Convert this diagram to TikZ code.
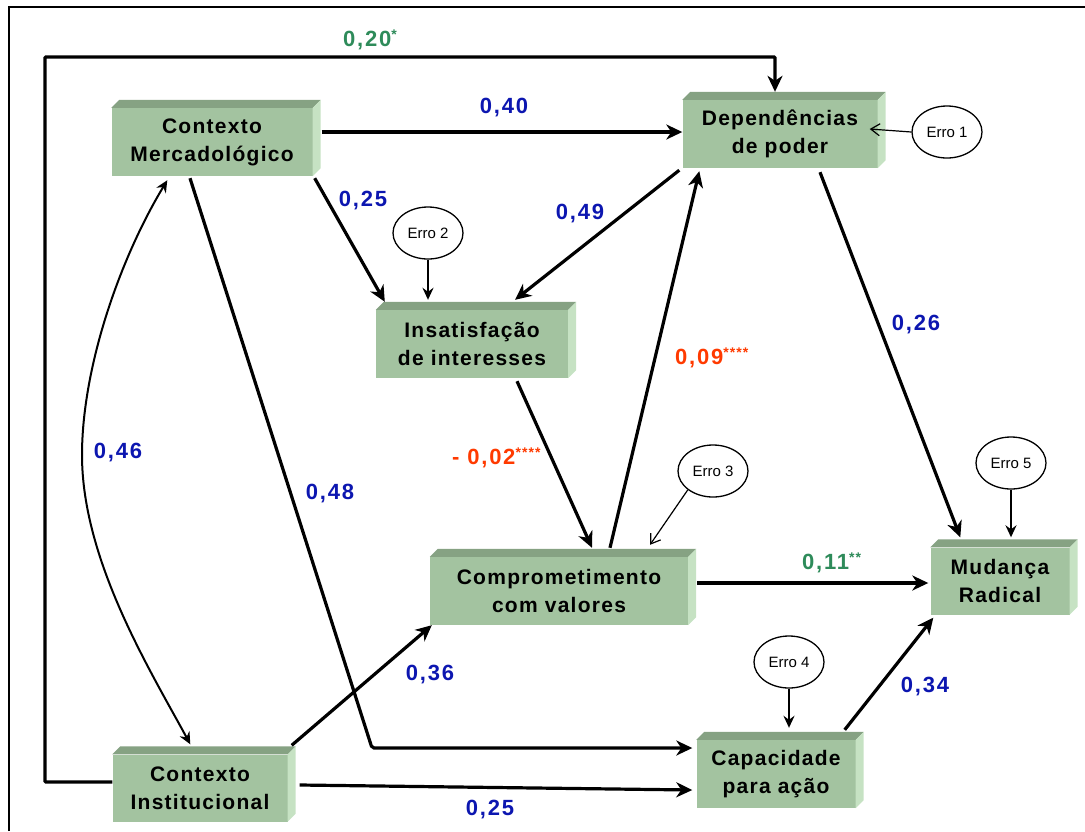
\documentclass[tikz,border=0pt]{standalone}
\usepackage{fontspec}
\setmainfont{Liberation Sans}
\newfontfamily\boxfam[LetterSpace=6]{Liberation Sans}
\newfontfamily\lblfam[LetterSpace=8]{Liberation Sans}
\usetikzlibrary{calc,arrows.meta,shapes.geometric}

\definecolor{frontc}{HTML}{A3C3A0}
\definecolor{topc}{HTML}{86A283}
\definecolor{sidec}{HTML}{C6E2C3}
\definecolor{bluelbl}{HTML}{0C16B0}
\definecolor{greenlbl}{HTML}{2E8B5A}
\definecolor{redlbl}{HTML}{FF3A00}

\newcommand\boxfont{\boxfam\fontsize{21}{28}\selectfont\bfseries}
\newcommand\lblfont{\lblfam\fontsize{22}{24}\selectfont\bfseries}
\newcommand\stars[1]{\raisebox{7pt}{\fontsize{14}{14}\selectfont #1}}

% bevelled top and right faces of a box node
\newcommand\bevel[1]{%
  \fill[topc] (#1.north west) -- ++(8,-8) -- ($(#1.north east)+(8,-8)$) -- (#1.north east) -- cycle;
  \fill[sidec] (#1.north east) -- ++(8,-8) -- ($(#1.south east)+(8,-8)$) -- (#1.south east) -- cycle;
}

\tikzset{
  blk/.style={fill=frontc, inner sep=0pt, align=center, font=\boxfont, minimum height=68pt},
  erro/.style={ellipse, draw, line width=1.3pt, fill=white, minimum width=70pt, minimum height=52pt,
               inner sep=0pt, font=\fontsize{15}{15}\selectfont},
  arr/.style={line width=3.2pt, -{Stealth[length=16pt,width=15pt,inset=5pt]}},
  arrm/.style={line width=2.2pt, -{Stealth[length=12pt,width=11pt,inset=4pt]}},
  arrt/.style={line width=1.2pt, -{Straight Barb[length=9pt,width=12pt,line width=1.2pt]}},
  twoway/.style={line width=2pt, {Stealth[length=12pt,width=11pt,inset=4pt]}-{Stealth[length=12pt,width=11pt,inset=4pt]}},
  lbl/.style={font=\lblfont, inner sep=0pt},
}

\begin{document}
\begin{tikzpicture}[x=1pt,y=-1pt]
\useasboundingbox (0,0) rectangle (1085,831);

% frame
\draw[line width=2pt] (9,831) -- (9,7) -- (1085,7);

% boxes
\node[blk, minimum width=201pt] (M) at (212,142) {Contexto\\Mercadológico};
\node[blk, minimum width=195pt] (D) at (780,134) {Dependências\\de poder};
\node[blk, minimum width=192pt] (I) at (472,344) {Insatisfação\\de interesses};
\node[blk, minimum width=258pt] (C) at (559,591) {Comprometimento\\com valores};
\node[blk, minimum width=139pt, minimum height=67pt] (R) at (1000,581) {Mudança\\Radical};
\node[blk, minimum width=159pt] (P) at (776,774) {Capacidade\\para ação};
\node[blk, minimum width=175pt, minimum height=67pt] (N) at (200,788) {Contexto\\Institucional};
\bevel{M}\bevel{D}\bevel{I}\bevel{C}\bevel{R}\bevel{P}\bevel{N}

% error terms
\node[erro] (E1) at (947,132) {Erro 1};
\node[erro] (E2) at (428,233) {Erro 2};
\node[erro] (E3) at (713,471) {Erro 3};
\node[erro] (E4) at (789,662) {Erro 4};
\node[erro] (E5) at (1011,463) {Erro 5};

% helper points
\coordinate (loopL) at (45,57);
\coordinate (kP) at (372,748);
\coordinate (arcL) at (82,455);

% paths
\draw[arr, rounded corners=1pt] ($(N.west)+(0,-6)$) -| (loopL) -| ($(D.north)+(-5,-8)$);
\draw[arr] ($(M.east)+(9,-10)$) -- ($(D.west)+(0,-2)$);
\draw[arr] ($(M.south east)+(2,2)$) -- ($(I.north west)+(9,-8)$);
\draw[arr] ($(D.south west)+(-3,2)$) -- ($(I.north)+(43,-10)$);
\draw[arr] ($(D.south)+(40,4)$) -- ($(R.north west)+(30,-10)$);
\draw[arr] ($(I.south)+(45,3)$) -- ($(C.north)+(33,-9)$);
\draw[arr] ($(C.north)+(51,-9)$) -- ($(D.south west)+(17,3)$);
\draw[arr] ($(C.east)+(9,-8)$) -- ($(R.west)+(-2,2)$);
\draw[arr] ($(P.north east)+(-11,-10)$) -- ($(R.south west)+(3,3)$);
\draw[arr] ($(N.north east)+(4,-9)$) -- ($(C.south west)+(2,0)$);
\draw[arr] ($(N.east)+(12,-3)$) -- ($(P.west)+(-4,16)$);
\draw[arr, rounded corners=2pt] ($(M.south)+(-22,2)$) -- (kP) -- ($(P.west)+(-4,-26)$);
\draw[twoway] ($(M.south west)+(56,4)$) .. controls (118,262) and (82,370) .. (arcL)
  .. controls (82,560) and (150,670) .. ($(N.north west)+(78,-10)$);

% error arrows
\draw[arrt] (E1.west) -- ($(D.east)+(-8,-5)$);
\draw[arrm] (E2.south) -- ($(I.north)+(-44,-10)$);
\draw[arrt] (E3.south west) -- ($(C.north)+(91,-12)$);
\draw[arrm] (E4.south) -- ($(P.north)+(13,-12)$);
\draw[arrm] (E5.south) -- ($(R.north)+(11,-10)$);

% coefficients
\node[lbl, text=greenlbl, anchor=west] (l1) at (343,40) {0,20\stars{*}};
\node[lbl, text=bluelbl] (l2) at (504,108) {0,40};
\node[lbl, text=bluelbl] (l3) at (363,201) {0,25};
\node[lbl, text=bluelbl] (l4) at (580,214) {0,49};
\node[lbl, text=bluelbl] (l5) at (916,325) {0,26};
\node[lbl, text=redlbl, anchor=west] (l6) at (675,358) {0,09\stars{****}};
\node[lbl, text=redlbl, anchor=west] (l7) at (452,458) {- 0,02\stars{****}};
\node[lbl, text=greenlbl, anchor=west] (l8) at (802,563) {0,11\stars{**}};
\node[lbl, text=bluelbl] (l9) at (118,453) {0,46};
\node[lbl, text=bluelbl] (l10) at (330,494) {0,48};
\node[lbl, text=bluelbl] (l11) at (430,675) {0,36};
\node[lbl, text=bluelbl] (l12) at (925,687) {0,34};
\node[lbl, text=bluelbl] (l13) at (490,810) {0,25};
\end{tikzpicture}
\end{document}
